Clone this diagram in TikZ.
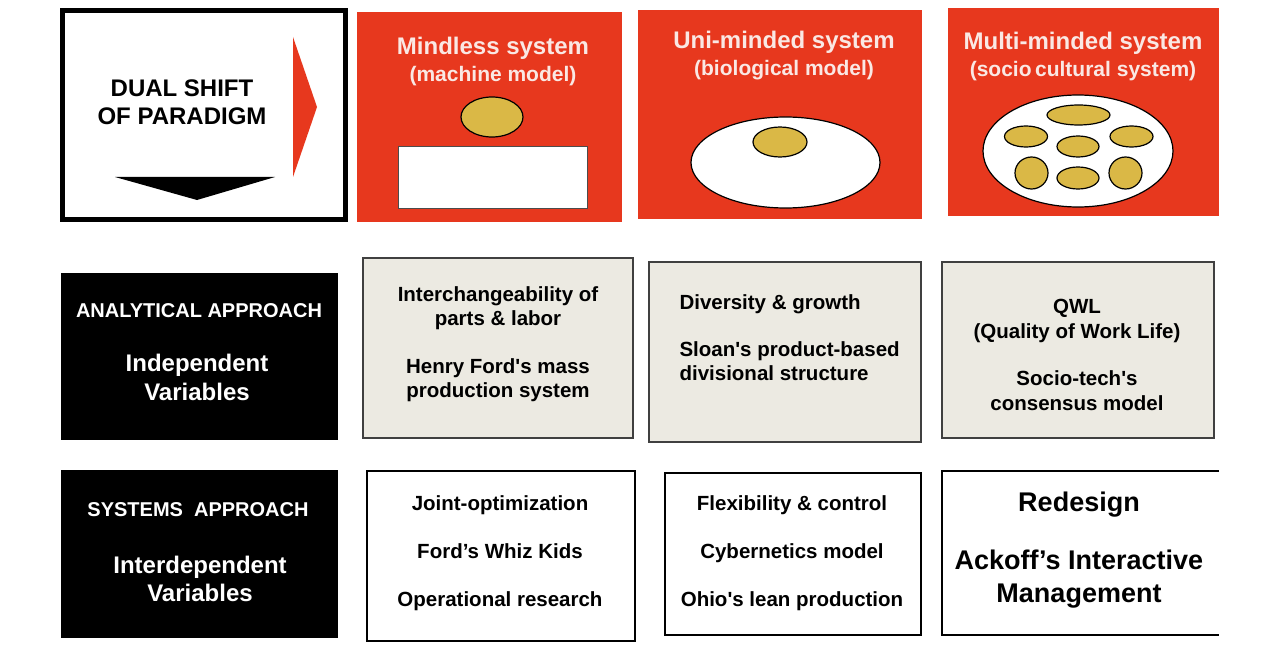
\documentclass[tikz,border=0pt]{standalone}
\usepackage{fontspec}
\setmainfont{Liberation Sans}
\usepackage{xcolor}
\definecolor{paradigmred}{RGB}{231,56,30}
\definecolor{mindgold}{RGB}{218,184,70}
\definecolor{paperbeige}{RGB}{236,234,226}
\definecolor{titlepink}{RGB}{250,232,228}
\usepackage{tikz}

\begin{document}
\begin{tikzpicture}[
    x=1pt, y=-1pt,
    font=\bfseries\fontsize{20.5}{24}\selectfont,
    shiftnode/.style={draw, line width=5pt, fill=white, minimum width=283pt, minimum height=209pt, inner sep=0pt},
    mindnode/.style={fill=paradigmred, inner sep=0pt},
    headnode/.style={text=titlepink, align=center, font=\bfseries\fontsize{24}{27}\selectfont},
    approachnode/.style={fill=black, minimum width=277pt, minimum height=167pt, inner sep=0pt},
    approachtext/.style={text=white, align=center},
    beigenode/.style={draw=black!75, line width=1.5pt, fill=paperbeige, inner sep=0pt},
    whitenode/.style={draw, line width=1.5pt, fill=white, inner sep=0pt},
    celltext/.style={align=center},
    blob/.style={draw, line width=1.2pt, fill=mindgold}
  ]
  \useasboundingbox (0,0) rectangle (1280,650);

  % top row
  \node (shift) [shiftnode] at (204,115) {};
  \node (shift-txt) [celltext, font=\bfseries\fontsize{24}{28}\selectfont] at (182,102) {DUAL SHIFT\\OF PARADIGM};
  \fill[paradigmred] (293,37) -- (317,107) -- (293,177) -- cycle;
  \fill[black] (115,177) -- (275,177) -- (197,200) -- cycle;

  \node (mindless) [mindnode, minimum width=265pt, minimum height=210pt] at (489.5,117) {};
  \node (unimind) [mindnode, minimum width=284pt, minimum height=209pt] at (780,114.5) {};
  \node (multimind) [mindnode, minimum width=271pt, minimum height=208pt] at (1083.5,112) {};

  \node (mindless-txt) [headnode] at (493,61) {Mindless system\\\fontsize{21}{27}\selectfont(machine model)};
  \node (unimind-txt) [headnode] at (784,56) {Uni-minded system\\\fontsize{21}{27}\selectfont(biological model)};
  \node (multimind-txt) [headnode] at (1083,56) {Multi-minded system\\\fontsize{21}{27}\selectfont(socio\,cultural system)};

  % machine model
  \draw[blob] (492,117) ellipse [x radius=31, y radius=20];
  \draw[draw=black!70, line width=1pt, fill=white] (398,147) rectangle (587,208);

  % biological model
  \draw[line width=1.2pt, fill=white] (785.5,162.5) ellipse [x radius=94.5, y radius=45.5];
  \draw[blob] (780,142) ellipse [x radius=27, y radius=15];

  % sociocultural system
  \draw[line width=1.2pt, fill=white] (1078,151) ellipse [x radius=95, y radius=56];
  \draw[blob] (1078.5,115) ellipse [x radius=31.5, y radius=10];
  \draw[blob] (1026,136.5) ellipse [x radius=21.5, y radius=10.5];
  \draw[blob] (1131.5,136.5) ellipse [x radius=21.5, y radius=10.5];
  \draw[blob] (1078,146.5) ellipse [x radius=21, y radius=10.5];
  \draw[blob] (1031.5,173) ellipse [x radius=16.5, y radius=16];
  \draw[blob] (1078,178) ellipse [x radius=21, y radius=11];
  \draw[blob] (1125.5,173) ellipse [x radius=16.5, y radius=16];

  % analytical row
  \node (analytical) [approachnode] at (199.5,356.5) {};
  \node (analytical-head) [approachtext, font=\bfseries\fontsize{20}{24}\selectfont] at (199,311) {ANALYTICAL APPROACH};
  \node (analytical-var) [approachtext, font=\bfseries\fontsize{24}{29}\selectfont] at (197,377.5) {Independent\\Variables};

  \node (ana-mech) [beigenode, minimum width=270pt, minimum height=180pt] at (498,348) {};
  \node (ana-bio) [beigenode, minimum width=272pt, minimum height=180pt] at (785,352) {};
  \node (ana-socio) [beigenode, minimum width=272pt, minimum height=176pt] at (1078,350) {};

  \node (ana-mech-txt) [celltext] at (498,344) {Interchangeability of\\parts \& labor\\[24pt]Henry Ford\textquotesingle s mass\\production system};
  \node (ana-bio-txt) [align=left, anchor=west] at (676,338) {Diversity \& growth\\[23pt]Sloan\textquotesingle s product-based\\divisional structure};
  \node (ana-socio-txt) [celltext, font=\bfseries\fontsize{20.5}{25}\selectfont] at (1077,354.5) {QWL\\(Quality of Work Life)\\[22pt]Socio-tech\textquotesingle s\\consensus model};

  % systems row
  \node (systems) [approachnode, minimum height=168pt] at (199.5,554) {};
  \node (systems-head) [approachtext, font=\bfseries\fontsize{20}{24}\selectfont] at (198,510) {SYSTEMS\ \ APPROACH};
  \node (systems-var) [approachtext, font=\bfseries\fontsize{24}{28}\selectfont] at (200,579) {Interdependent\\Variables};

  \node (sys-mech) [whitenode, minimum width=268pt, minimum height=170pt] at (501,556) {};
  \node (sys-bio) [whitenode, minimum width=256pt, minimum height=162pt] at (793,554) {};
  \node (sys-socio) [fill=white, inner sep=0pt, minimum width=277pt, minimum height=164pt] at (1080.5,553) {};
  \draw[line width=1.5pt] (sys-socio.north east) -- (sys-socio.north west) -- (sys-socio.south west) -- (sys-socio.south east);

  \node (sys-mech-txt) [celltext] at (500,553) {Joint-optimization\\[24pt]Ford’s Whiz Kids\\[24pt]Operational research};
  \node (sys-bio-txt) [celltext] at (792,553) {Flexibility \& control\\[24pt]Cybernetics model\\[24pt]Ohio\textquotesingle s lean production};
  \node (sys-socio-txt) [celltext, font=\bfseries\fontsize{27}{33}\selectfont] at (1079,550) {Redesign\\[25pt]Ackoff’s Interactive\\Management};

\end{tikzpicture}
\end{document}
